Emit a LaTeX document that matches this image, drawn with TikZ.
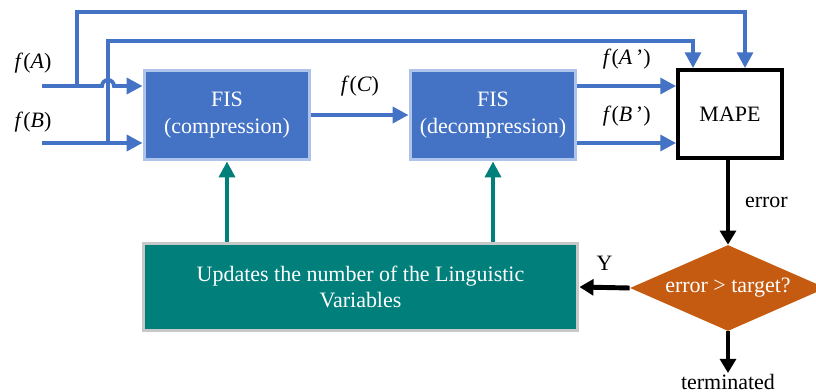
\documentclass[tikz,border=0pt]{standalone}
\usepackage{fontspec}
\setmainfont{Liberation Serif}
\usetikzlibrary{arrows.meta,positioning,shapes.geometric}
\definecolor{fisblue}{HTML}{4472C4}
\definecolor{fisrim}{HTML}{AFC4EA}
\definecolor{lvteal}{HTML}{007F7B}
\definecolor{lvrim}{HTML}{C8C8C8}
\definecolor{decorange}{HTML}{C55A11}
\tikzset{
  fisbox/.style={draw=fisrim,fill=fisblue,line width=1.7pt,text=white,align=center,minimum width=3.32cm,minimum height=1.8cm,inner sep=0},
  bluearrow/.style={draw=fisblue,line width=2.2pt,-{Triangle[length=9pt,width=9pt]}},
  tealarrow/.style={draw=lvteal,line width=2.2pt,-{Triangle[length=9pt,width=9pt]}},
  blackarrow/.style={draw=black,line width=2.8pt,-{Triangle[length=8pt,width=9pt]}},
  lbl/.style={font=\fontsize{12.5}{15}\selectfont}
}
\begin{document}
\begin{tikzpicture}[x=0.02cm,y=-0.02cm,every node/.style={font=\fontsize{12.5}{15}\selectfont}]
\useasboundingbox (0,0) rectangle (816,392);
% blocks
\node[fisbox](comp) at(227,115){FIS\\(compression)};
\node[fisbox](decomp) at(493,115){FIS\\(decompression)};
\node[draw,line width=2.2pt,fill=white,minimum width=2.08cm,minimum height=1.76cm,inner sep=0](mape) at(730,114){MAPE};
\node[draw=lvrim,fill=lvteal,line width=1.7pt,text=white,align=center,minimum width=8.7cm,minimum height=1.76cm,inner sep=0](lv) at(360.5,287){Updates the number of the Linguistic\\Variables};
\node[diamond,fill=decorange,text=white,inner sep=0,shape aspect=2.3,minimum width=3.92cm,minimum height=1.72cm](dec) at(728,288){error > target?};
% inputs
\coordinate(ina) at(42,86);\coordinate(inb) at(42,143);
\node[lbl](la) at(33,63){\textit{f}(\textit{A})};
\node[lbl](lb) at(33,122){\textit{f}(\textit{B})};
\draw[bluearrow](ina)--(102,86) arc[start angle=180,end angle=360,radius=6]--(ina -| comp.west);
\draw[bluearrow](inb)--(inb -| comp.west);
% feed-forward to MAPE
\draw[bluearrow](77,86)--(77,12)--(745,12)--(745,12 |- mape.north);
\draw[bluearrow](108,143)--(108,41)--(693,41)--(693,41 |- mape.north);
% chain
\draw[bluearrow](comp.east)--(decomp.west) node[midway,above=6pt,text=black]{\textit{f}(\textit{C})};
\draw[bluearrow](decomp.east |- ina)--(mape.west |- ina) node[midway,above=5pt,text=black]{\textit{f}(\textit{A}\,’)};
\draw[bluearrow](decomp.east |- inb)--(mape.west |- inb) node[midway,above=5pt,text=black]{\textit{f}(\textit{B}\,’)};
% update loop
\draw[tealarrow](lv.north -| comp)--(comp.south);
\draw[tealarrow](lv.north -| decomp)--(decomp.south);
\draw[blackarrow](mape.south -| dec)--(dec.north) node[midway,right=5pt]{error};
\draw[blackarrow](dec.west)--(lv.east) node[midway,above=5pt]{Y};
\coordinate(stop) at(728,373);
\draw[blackarrow](dec.south)--(stop);
\node[inner sep=0](term) at(728,382){terminated};
\end{tikzpicture}
\end{document}
